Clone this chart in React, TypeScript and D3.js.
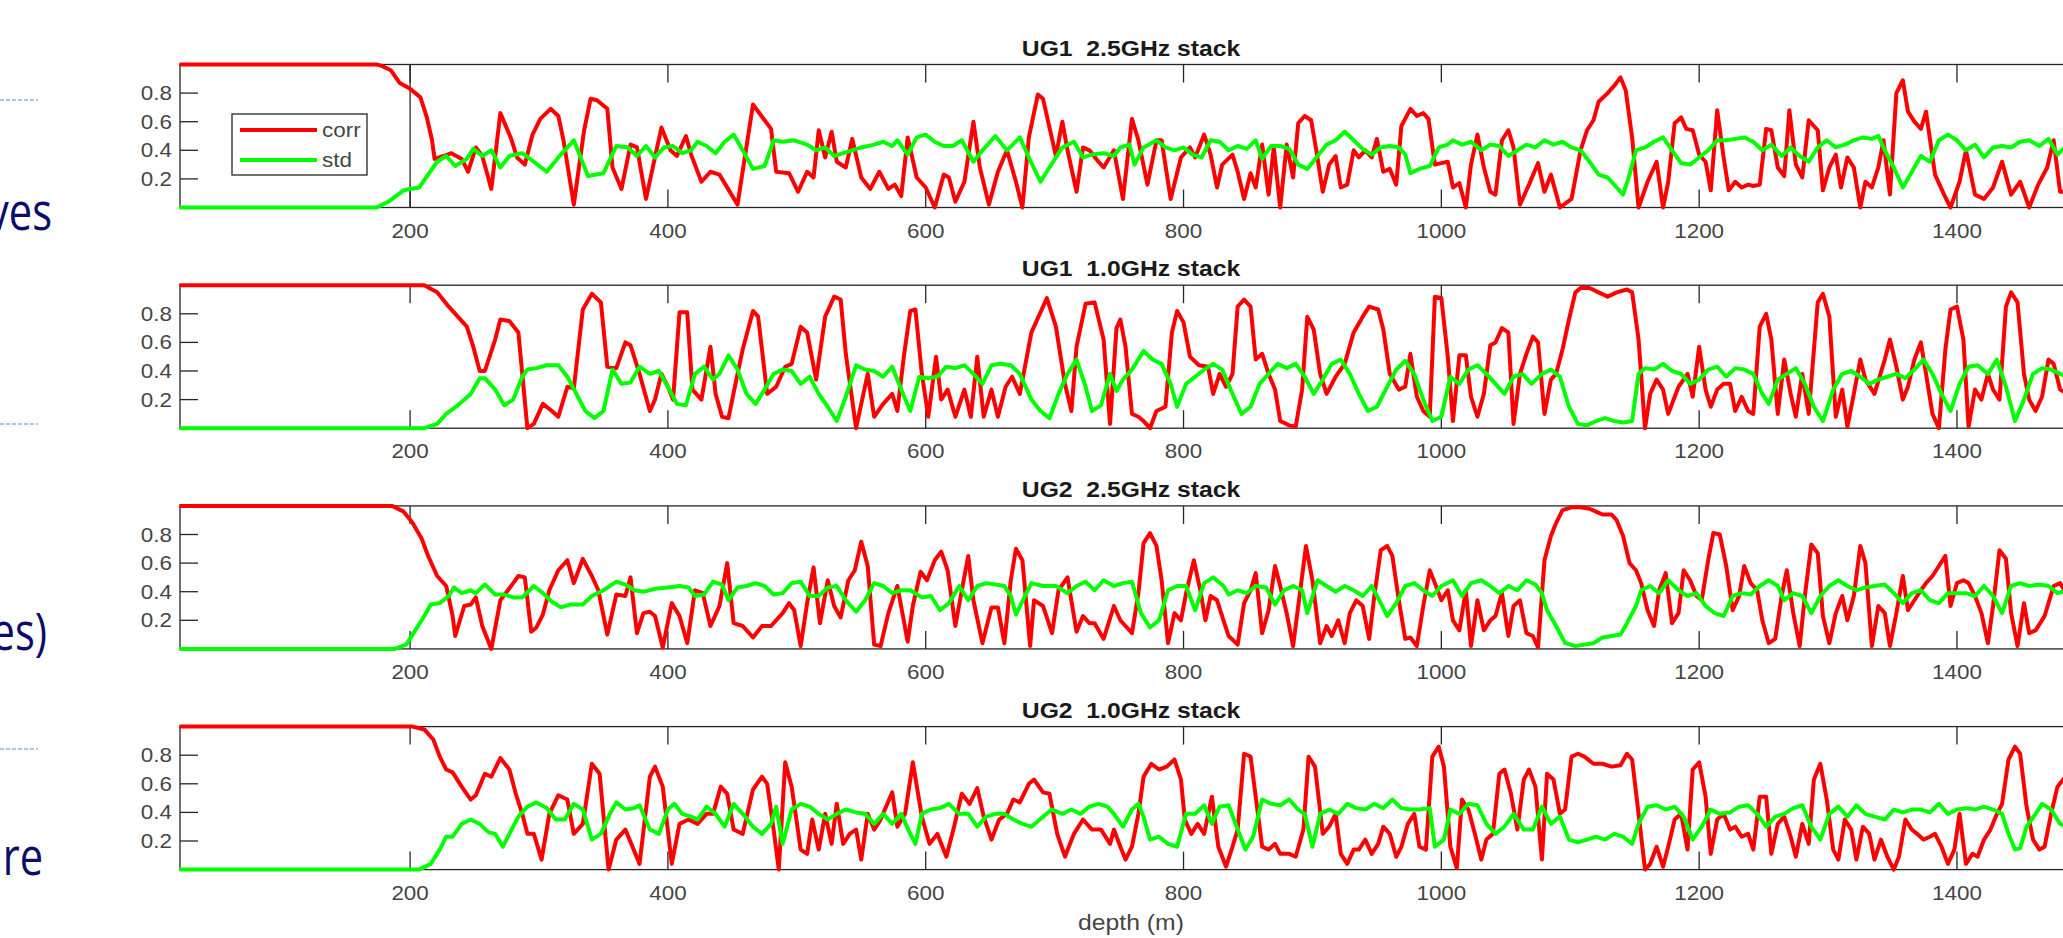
import * as d3 from 'd3';
import React, { useEffect, useRef } from 'react';

// [depth (m), value] pairs
const ug1_25_corr = [[21,1],[174,1],[178,0.99],[185,0.96],[192,0.87],[200,0.83],[208,0.77],[213,0.63],[217,0.47],[219,0.34],[226,0.36],[232,0.38],[240,0.34],[245,0.25],[251,0.42],[256,0.36],[263,0.13],[270,0.66],[278,0.49],[283,0.35],[289,0.30],[295,0.51],[301,0.62],[309,0.69],[315,0.64],[319,0.47],[327,0.02],[335,0.54],[340,0.76],[345,0.75],[353,0.69],[357,0.28],[364,0.13],[371,0.44],[376,0.42],[383,0.06],[395,0.56],[402,0.40],[407,0.36],[414,0.50],[418,0.37],[426,0.18],[433,0.25],[440,0.23],[454,0.02],[466,0.72],[480,0.55],[484,0.25],[494,0.24],[501,0.11],[508,0.25],[513,0.21],[517,0.54],[522,0.35],[527,0.53],[531,0.32],[538,0.28],[543,0.48],[550,0.21],[557,0.13],[564,0.25],[571,0.13],[576,0.16],[581,0.08],[586,0.49],[593,0.21],[600,0.14],[607,0],[614,0.23],[618,0.21],[623,0.04],[630,0.18],[637,0.60],[642,0.28],[649,0.02],[656,0.25],[663,0.40],[670,0.18],[675,0],[680,0.49],[687,0.79],[691,0.76],[696,0.56],[701,0.36],[706,0.60],[710,0.40],[717,0.11],[722,0.42],[727,0.40],[734,0.32],[738,0.28],[746,0.40],[753,0.06],[760,0.62],[765,0.47],[772,0.16],[779,0.47],[783,0.47],[790,0.06],[798,0.35],[805,0.42],[809,0.35],[816,0.51],[821,0.37],[826,0.14],[830,0.30],[838,0.37],[842,0.25],[847,0.06],[852,0.24],[856,0.14],[861,0.44],[866,0.09],[870,0.42],[875,0],[880,0.44],[885,0.21],[889,0.59],[894,0.64],[899,0.61],[903,0.40],[908,0.11],[913,0.30],[918,0.36],[922,0.14],[927,0.16],[932,0.40],[936,0.35],[941,0.40],[946,0.35],[950,0.48],[955,0.25],[960,0.27],[965,0.16],[969,0.57],[976,0.69],[981,0.64],[986,0.66],[990,0.62],[995,0.30],[1000,0.31],[1005,0.32],[1009,0.14],[1014,0.17],[1019,0],[1023,0.30],[1028,0.51],[1033,0.28],[1038,0.11],[1042,0.09],[1047,0.47],[1052,0.54],[1056,0.42],[1061,0.02],[1068,0.16],[1075,0.31],[1080,0.11],[1085,0.23],[1092,0],[1101,0.06],[1108,0.40],[1113,0.54],[1118,0.61],[1122,0.74],[1129,0.80],[1134,0.85],[1139,0.91],[1143,0.82],[1148,0.49],[1153,0],[1160,0.18],[1167,0.32],[1172,0],[1176,0.18],[1181,0.59],[1186,0.63],[1190,0.55],[1195,0.54],[1200,0.37],[1205,0.32],[1209,0.12],[1214,0.68],[1219,0.35],[1223,0.12],[1228,0.18],[1233,0.14],[1238,0.16],[1242,0.15],[1247,0.16],[1252,0.55],[1256,0.54],[1261,0.28],[1266,0.22],[1270,0.68],[1275,0.30],[1280,0.21],[1285,0.61],[1292,0.54],[1296,0.12],[1301,0.28],[1306,0.37],[1310,0.14],[1315,0.35],[1320,0.28],[1325,0],[1329,0.18],[1334,0.14],[1339,0.28],[1343,0.47],[1348,0.09],[1353,0.80],[1358,0.89],[1362,0.67],[1367,0.60],[1372,0.55],[1376,0.67],[1383,0.23],[1390,0.09],[1395,0],[1402,0.18],[1407,0.40],[1414,0.09],[1421,0.06],[1428,0.14],[1435,0.32],[1442,0.09],[1449,0.18],[1456,0],[1463,0.16],[1470,0.28],[1475,0.47],[1480,0.11],[1486,0.11]];
const ug1_25_std = [[21,0],[174,0],[183,0.04],[195,0.12],[207,0.14],[214,0.23],[221,0.32],[228,0.36],[235,0.29],[244,0.34],[249,0.41],[256,0.36],[263,0.40],[270,0.28],[277,0.36],[287,0.38],[296,0.32],[306,0.25],[315,0.35],[327,0.47],[338,0.22],[350,0.24],[360,0.43],[369,0.42],[376,0.36],[383,0.43],[390,0.35],[397,0.42],[404,0.43],[411,0.38],[418,0.40],[423,0.46],[430,0.43],[437,0.38],[444,0.46],[451,0.51],[458,0.40],[466,0.27],[475,0.29],[482,0.47],[489,0.46],[498,0.47],[508,0.44],[515,0.40],[522,0.42],[529,0.36],[536,0.38],[543,0.40],[550,0.42],[560,0.44],[567,0.46],[574,0.43],[578,0.47],[586,0.37],[593,0.49],[600,0.51],[607,0.46],[614,0.43],[621,0.43],[628,0.47],[637,0.32],[644,0.40],[654,0.50],[663,0.40],[673,0.49],[680,0.35],[689,0.18],[696,0.28],[706,0.42],[715,0.46],[722,0.35],[729,0.37],[738,0.38],[746,0.36],[751,0.42],[758,0.44],[762,0.30],[769,0.42],[779,0.47],[786,0.42],[793,0.40],[800,0.42],[807,0.37],[814,0.35],[821,0.47],[828,0.46],[835,0.40],[842,0.43],[849,0.41],[856,0.47],[861,0.34],[868,0.43],[875,0.43],[882,0.41],[889,0.30],[896,0.27],[904,0.36],[911,0.44],[918,0.47],[925,0.53],[932,0.47],[939,0.41],[946,0.37],[953,0.42],[960,0.43],[967,0.42],[972,0.37],[976,0.24],[983,0.27],[991,0.29],[998,0.42],[1005,0.44],[1009,0.47],[1016,0.44],[1023,0.46],[1031,0.40],[1038,0.44],[1045,0.43],[1052,0.36],[1059,0.40],[1066,0.44],[1073,0.42],[1080,0.47],[1087,0.44],[1094,0.46],[1101,0.42],[1108,0.40],[1115,0.32],[1122,0.23],[1129,0.21],[1136,0.14],[1141,0.09],[1146,0.23],[1151,0.40],[1158,0.42],[1165,0.46],[1172,0.49],[1179,0.40],[1186,0.31],[1193,0.30],[1200,0.35],[1207,0.40],[1214,0.47],[1221,0.47],[1228,0.48],[1235,0.49],[1242,0.46],[1249,0.40],[1256,0.44],[1264,0.36],[1271,0.42],[1278,0.36],[1285,0.32],[1292,0.42],[1299,0.47],[1306,0.42],[1313,0.44],[1320,0.47],[1327,0.49],[1334,0.48],[1339,0.50],[1344,0.40],[1351,0.28],[1358,0.14],[1365,0.25],[1372,0.36],[1379,0.32],[1386,0.47],[1393,0.51],[1400,0.47],[1407,0.40],[1414,0.44],[1421,0.35],[1428,0.42],[1435,0.43],[1442,0.42],[1449,0.46],[1456,0.47],[1464,0.43],[1471,0.48],[1478,0.37],[1486,0.44]];

const ug1_10_corr = [[21,1],[211,1],[221,0.95],[230,0.85],[244,0.71],[249,0.57],[254,0.40],[258,0.40],[266,0.62],[270,0.76],[277,0.75],[284,0.67],[291,0],[296,0.03],[303,0.17],[310,0.12],[315,0.08],[322,0.29],[327,0.28],[334,0.83],[341,0.94],[348,0.88],[353,0.43],[360,0.42],[367,0.60],[371,0.58],[378,0.38],[386,0.12],[390,0.20],[395,0.38],[400,0.29],[404,0.20],[409,0.81],[415,0.81],[419,0.27],[426,0.20],[433,0.57],[437,0.24],[442,0.08],[447,0.07],[454,0.38],[458,0.55],[466,0.82],[470,0.78],[477,0.24],[484,0.29],[491,0.43],[496,0.45],[503,0.71],[508,0.67],[515,0.34],[522,0.78],[529,0.92],[534,0.90],[538,0.52],[546,0],[550,0.17],[555,0.38],[560,0.08],[567,0.17],[574,0.24],[578,0.12],[583,0.50],[588,0.82],[592,0.83],[597,0.38],[602,0.08],[608,0.50],[612,0.20],[617,0.27],[623,0.08],[630,0.27],[635,0.08],[640,0.50],[645,0.08],[651,0.27],[656,0.08],[662,0.29],[667,0.36],[673,0.24],[682,0.67],[694,0.91],[701,0.71],[708,0.31],[713,0.12],[717,0.57],[724,0.87],[731,0.88],[738,0.62],[743,0.03],[748,0.70],[751,0.76],[755,0.57],[760,0.10],[765,0.08],[769,0.05],[774,0],[779,0.12],[786,0.15],[791,0.67],[795,0.82],[800,0.74],[805,0.50],[812,0.44],[819,0.43],[823,0.24],[828,0.38],[833,0.29],[838,0.38],[842,0.85],[847,0.90],[852,0.85],[856,0.48],[861,0.52],[866,0.38],[871,0.27],[875,0.05],[882,0.02],[887,0.01],[892,0.27],[896,0.78],[901,0.69],[906,0.38],[911,0.24],[918,0.36],[925,0.45],[932,0.67],[939,0.78],[944,0.85],[951,0.83],[955,0.69],[960,0.38],[967,0.27],[972,0.29],[976,0.52],[981,0.22],[986,0.12],[991,0.08],[995,0.92],[1000,0.91],[1005,0.50],[1009,0.05],[1014,0.51],[1019,0.51],[1023,0.22],[1028,0.08],[1033,0.24],[1038,0.58],[1042,0.60],[1047,0.70],[1052,0.67],[1056,0.03],[1061,0.38],[1066,0.52],[1071,0.64],[1075,0.60],[1080,0.10],[1085,0.34],[1089,0.38],[1094,0.55],[1099,0.76],[1104,0.95],[1108,0.98],[1115,0.98],[1122,0.95],[1129,0.92],[1136,0.95],[1144,0.97],[1148,0.95],[1153,0.62],[1158,0],[1162,0.24],[1167,0.34],[1172,0.27],[1176,0.10],[1184,0.29],[1191,0.38],[1195,0.22],[1200,0.57],[1205,0.27],[1209,0.15],[1214,0.27],[1219,0.31],[1224,0.31],[1228,0.12],[1233,0.22],[1238,0.12],[1242,0.10],[1247,0.71],[1252,0.80],[1256,0.62],[1261,0.10],[1266,0.48],[1271,0.24],[1275,0.08],[1280,0.38],[1285,0.10],[1292,0.88],[1296,0.94],[1301,0.78],[1306,0.08],[1311,0.27],[1315,0.01],[1320,0.24],[1325,0.48],[1329,0.34],[1336,0.24],[1344,0.48],[1348,0.62],[1353,0.43],[1358,0.20],[1362,0.29],[1367,0.48],[1372,0.60],[1376,0.38],[1381,0.10],[1386,0],[1391,0.55],[1395,0.83],[1400,0.85],[1405,0.62],[1409,0.01],[1414,0.27],[1419,0.20],[1424,0.38],[1428,0.27],[1433,0.20],[1438,0.85],[1442,0.95],[1447,0.88],[1452,0.38],[1456,0.20],[1461,0.12],[1466,0.22],[1471,0.48],[1475,0.45],[1480,0.27],[1486,0.24]];
const ug1_10_std = [[21,0],[211,0],[221,0.03],[228,0.10],[237,0.16],[247,0.24],[254,0.35],[258,0.35],[266,0.27],[273,0.16],[280,0.20],[287,0.36],[291,0.41],[298,0.42],[306,0.44],[315,0.44],[322,0.36],[329,0.24],[336,0.12],[343,0.07],[350,0.12],[357,0.41],[364,0.31],[371,0.32],[378,0.43],[386,0.38],[393,0.40],[400,0.29],[407,0.17],[414,0.16],[421,0.38],[428,0.43],[435,0.34],[440,0.38],[447,0.51],[454,0.41],[461,0.24],[468,0.17],[475,0.27],[482,0.38],[489,0.41],[496,0.40],[503,0.31],[510,0.36],[517,0.24],[524,0.15],[531,0.05],[538,0.22],[546,0.44],[553,0.41],[560,0.40],[567,0.36],[574,0.43],[581,0.27],[588,0.12],[595,0.36],[602,0.35],[609,0.36],[616,0.43],[623,0.42],[630,0.44],[637,0.38],[644,0.31],[651,0.44],[658,0.45],[666,0.44],[673,0.38],[682,0.20],[689,0.12],[696,0.07],[703,0.24],[710,0.38],[717,0.48],[724,0.29],[729,0.12],[736,0.16],[743,0.38],[748,0.26],[753,0.34],[760,0.41],[769,0.54],[776,0.48],[783,0.45],[790,0.31],[795,0.15],[802,0.31],[809,0.36],[816,0.41],[823,0.45],[830,0.41],[838,0.24],[845,0.10],[852,0.15],[859,0.31],[866,0.38],[873,0.45],[880,0.42],[887,0.45],[894,0.36],[901,0.24],[908,0.34],[915,0.45],[922,0.48],[929,0.38],[936,0.24],[943,0.12],[950,0.15],[958,0.29],[965,0.41],[972,0.47],[979,0.38],[986,0.20],[993,0.05],[1000,0.08],[1007,0.36],[1014,0.31],[1021,0.41],[1028,0.44],[1035,0.38],[1042,0.31],[1049,0.24],[1056,0.36],[1063,0.38],[1070,0.31],[1078,0.38],[1085,0.41],[1092,0.36],[1099,0.15],[1106,0.03],[1113,0.02],[1120,0.05],[1127,0.07],[1134,0.05],[1141,0.04],[1148,0.05],[1153,0.38],[1158,0.42],[1165,0.41],[1172,0.45],[1179,0.40],[1186,0.38],[1193,0.31],[1200,0.34],[1207,0.41],[1214,0.43],[1221,0.36],[1228,0.42],[1235,0.41],[1242,0.38],[1249,0.24],[1254,0.17],[1261,0.34],[1268,0.38],[1275,0.42],[1282,0.31],[1289,0.15],[1296,0.05],[1304,0.27],[1311,0.38],[1318,0.40],[1325,0.36],[1332,0.31],[1339,0.34],[1346,0.36],[1353,0.38],[1360,0.35],[1367,0.41],[1374,0.48],[1381,0.38],[1388,0.24],[1395,0.12],[1402,0.31],[1409,0.43],[1416,0.44],[1424,0.38],[1431,0.48],[1438,0.29],[1445,0.05],[1452,0.20],[1459,0.38],[1466,0.42],[1473,0.41],[1480,0.38],[1486,0.36]];

const ug2_25_corr = [[21,1],[186,1],[195,0.96],[202,0.88],[209,0.77],[214,0.65],[221,0.51],[228,0.44],[233,0.23],[235,0.09],[242,0.30],[247,0.31],[251,0.36],[256,0.16],[263,0],[270,0.34],[275,0.40],[280,0.46],[284,0.51],[289,0.50],[294,0.12],[298,0.15],[303,0.24],[308,0.41],[315,0.55],[322,0.62],[327,0.46],[334,0.63],[341,0.51],[346,0.41],[353,0.10],[360,0.38],[367,0.37],[371,0.50],[376,0.11],[381,0.25],[386,0.26],[390,0.23],[396,0.01],[403,0.32],[409,0.23],[415,0.04],[421,0.41],[427,0.39],[433,0.16],[440,0.30],[446,0.60],[451,0.18],[458,0.16],[466,0.08],[473,0.16],[480,0.16],[489,0.25],[494,0.32],[498,0.27],[503,0.02],[508,0.32],[513,0.57],[518,0.18],[524,0.48],[529,0.30],[534,0.22],[540,0.48],[545,0.55],[550,0.75],[555,0.58],[560,0.03],[565,0.02],[571,0.25],[578,0.44],[586,0.05],[590,0.30],[596,0.54],[601,0.48],[607,0.62],[612,0.68],[617,0.55],[623,0.16],[628,0.41],[633,0.65],[637,0.34],[644,0.04],[651,0.29],[656,0.29],[661,0.04],[666,0.48],[670,0.70],[675,0.62],[681,0.02],[684,0.34],[691,0.30],[698,0.11],[703,0.41],[710,0.50],[717,0.12],[722,0.23],[727,0.18],[731,0.18],[738,0.07],[746,0.30],[751,0.20],[755,0.16],[760,0.11],[765,0.39],[769,0.74],[774,0.81],[779,0.72],[783,0.48],[788,0.04],[793,0.25],[798,0.20],[802,0.39],[808,0.62],[813,0.41],[817,0.20],[821,0.37],[826,0.34],[831,0.20],[835,0.09],[842,0.03],[847,0.32],[852,0.41],[856,0.53],[861,0.11],[866,0.27],[871,0.58],[875,0.44],[880,0.25],[885,0.02],[889,0.30],[895,0.72],[900,0.48],[906,0.04],[911,0.16],[915,0.09],[920,0.20],[925,0.04],[929,0.25],[934,0.34],[939,0.30],[944,0.07],[948,0.37],[953,0.69],[958,0.72],[962,0.65],[967,0.34],[972,0.07],[976,0.08],[981,0.02],[986,0.30],[991,0.55],[995,0.46],[1000,0.34],[1005,0.41],[1009,0.20],[1014,0.13],[1019,0.41],[1023,0.02],[1028,0.34],[1033,0.13],[1038,0.20],[1042,0.23],[1047,0.39],[1052,0.09],[1056,0.30],[1061,0.34],[1066,0.11],[1071,0.09],[1075,0.01],[1080,0.62],[1085,0.79],[1089,0.88],[1094,0.97],[1101,0.99],[1108,0.99],[1115,0.98],[1120,0.96],[1125,0.94],[1132,0.94],[1136,0.90],[1141,0.79],[1146,0.60],[1151,0.55],[1155,0.46],[1160,0.27],[1165,0.16],[1169,0.41],[1174,0.53],[1179,0.18],[1184,0.25],[1188,0.55],[1193,0.48],[1198,0.37],[1202,0.34],[1207,0.62],[1211,0.81],[1216,0.80],[1221,0.58],[1226,0.27],[1231,0.37],[1235,0.58],[1240,0.46],[1245,0.41],[1249,0.20],[1254,0.04],[1259,0.07],[1264,0.37],[1268,0.55],[1273,0.25],[1278,0.02],[1282,0.37],[1287,0.73],[1292,0.67],[1296,0.23],[1301,0.04],[1306,0.25],[1311,0.37],[1315,0.20],[1320,0.37],[1325,0.72],[1329,0.60],[1334,0.02],[1339,0.30],[1344,0.25],[1348,0.02],[1353,0.25],[1358,0.51],[1362,0.27],[1367,0.34],[1372,0.41],[1376,0.46],[1381,0.51],[1386,0.58],[1391,0.65],[1395,0.30],[1400,0.46],[1405,0.48],[1409,0.46],[1414,0.37],[1419,0.25],[1424,0.04],[1428,0.30],[1433,0.69],[1438,0.63],[1442,0.25],[1447,0.02],[1452,0.32],[1456,0.11],[1461,0.13],[1468,0.23],[1475,0.44],[1480,0.46],[1486,0.37]];
const ug2_25_std = [[21,0],[188,0],[197,0.03],[204,0.13],[211,0.23],[216,0.31],[223,0.32],[230,0.37],[234,0.43],[240,0.39],[247,0.41],[251,0.39],[258,0.45],[266,0.38],[273,0.38],[280,0.36],[287,0.36],[296,0.44],[303,0.39],[310,0.33],[317,0.29],[324,0.31],[334,0.31],[341,0.37],[350,0.41],[360,0.47],[367,0.45],[374,0.41],[381,0.40],[390,0.42],[400,0.43],[409,0.44],[416,0.43],[421,0.37],[428,0.38],[435,0.47],[442,0.45],[447,0.34],[454,0.43],[461,0.44],[468,0.46],[475,0.44],[482,0.38],[489,0.39],[496,0.46],[503,0.47],[510,0.37],[517,0.37],[524,0.43],[531,0.44],[538,0.34],[546,0.26],[553,0.34],[560,0.46],[567,0.44],[574,0.39],[581,0.41],[588,0.41],[597,0.36],[604,0.37],[611,0.27],[618,0.32],[626,0.44],[633,0.34],[640,0.44],[647,0.46],[654,0.45],[661,0.44],[666,0.37],[670,0.24],[677,0.37],[682,0.46],[691,0.44],[701,0.44],[710,0.39],[717,0.44],[724,0.47],[731,0.41],[738,0.48],[746,0.44],[753,0.46],[760,0.47],[767,0.25],[774,0.15],[781,0.20],[788,0.41],[795,0.44],[802,0.44],[809,0.27],[816,0.46],[823,0.50],[831,0.44],[835,0.38],[842,0.41],[849,0.39],[856,0.44],[864,0.43],[871,0.31],[878,0.41],[885,0.44],[892,0.41],[896,0.25],[904,0.48],[911,0.44],[918,0.40],[925,0.44],[932,0.41],[939,0.37],[946,0.44],[953,0.32],[958,0.23],[965,0.32],[972,0.44],[979,0.46],[986,0.41],[993,0.37],[1000,0.44],[1009,0.48],[1016,0.37],[1023,0.46],[1031,0.48],[1038,0.44],[1045,0.39],[1052,0.44],[1059,0.41],[1066,0.48],[1073,0.45],[1078,0.39],[1082,0.27],[1089,0.16],[1096,0.04],[1104,0.02],[1111,0.03],[1118,0.04],[1125,0.08],[1132,0.09],[1139,0.10],[1144,0.18],[1151,0.30],[1155,0.41],[1162,0.44],[1169,0.39],[1176,0.48],[1184,0.41],[1191,0.37],[1198,0.39],[1205,0.30],[1212,0.25],[1219,0.23],[1226,0.37],[1233,0.39],[1240,0.38],[1247,0.44],[1254,0.48],[1261,0.44],[1266,0.34],[1273,0.39],[1280,0.37],[1287,0.25],[1294,0.37],[1301,0.44],[1308,0.48],[1315,0.44],[1322,0.41],[1329,0.43],[1336,0.44],[1344,0.45],[1351,0.39],[1358,0.32],[1365,0.39],[1372,0.41],[1379,0.34],[1386,0.32],[1393,0.39],[1400,0.39],[1407,0.39],[1414,0.37],[1421,0.44],[1428,0.37],[1435,0.25],[1442,0.44],[1449,0.46],[1456,0.44],[1464,0.45],[1471,0.44],[1478,0.39],[1486,0.41]];

const ug2_10_corr = [[21,1],[202,1],[211,0.98],[218,0.91],[223,0.79],[228,0.70],[233,0.68],[240,0.58],[247,0.49],[251,0.52],[258,0.67],[263,0.65],[270,0.78],[277,0.70],[282,0.53],[287,0.39],[291,0.25],[296,0.25],[302,0.07],[308,0.39],[315,0.52],[322,0.49],[327,0.25],[334,0.32],[341,0.74],[347,0.67],[354,0],[360,0.21],[367,0.28],[378,0.04],[386,0.65],[390,0.72],[396,0.58],[403,0.04],[409,0.32],[416,0.35],[423,0.32],[430,0.39],[435,0.39],[441,0.58],[446,0.53],[451,0.28],[458,0.25],[466,0.56],[473,0.65],[477,0.60],[482,0.28],[486,0],[491,0.75],[496,0.58],[503,0.14],[508,0.11],[512,0.35],[517,0.14],[522,0.39],[527,0.18],[531,0.46],[536,0.18],[541,0.25],[546,0.28],[550,0.07],[555,0.39],[560,0.28],[565,0.35],[574,0.54],[578,0.30],[584,0.39],[590,0.75],[597,0.37],[603,0.18],[609,0.25],[616,0.09],[622,0.30],[628,0.53],[634,0.46],[640,0.57],[645,0.37],[651,0.21],[657,0.35],[663,0.39],[668,0.49],[673,0.47],[680,0.60],[684,0.63],[691,0.54],[696,0.53],[702,0.25],[708,0.09],[715,0.25],[722,0.35],[729,0.28],[736,0.28],[743,0.18],[746,0.28],[751,0.16],[755,0.07],[760,0.16],[765,0.39],[769,0.65],[775,0.74],[781,0.70],[787,0.72],[793,0.77],[798,0.63],[801,0.35],[806,0.25],[811,0.32],[816,0.25],[822,0.51],[827,0.16],[833,0.02],[838,0.16],[842,0.28],[847,0.81],[852,0.79],[856,0.51],[861,0.16],[866,0.14],[871,0.18],[875,0.11],[882,0.11],[887,0.09],[893,0.28],[897,0.79],[902,0.72],[908,0.25],[913,0.30],[918,0.39],[922,0.11],[927,0.04],[932,0.14],[936,0.14],[941,0.21],[946,0.11],[951,0.18],[955,0.30],[960,0.25],[965,0.09],[969,0.16],[974,0.32],[979,0.39],[983,0.16],[988,0.14],[993,0.79],[998,0.86],[1002,0.72],[1007,0.16],[1012,0.01],[1016,0.49],[1021,0.42],[1026,0.25],[1031,0.07],[1035,0.21],[1040,0.25],[1045,0.67],[1049,0.70],[1054,0.53],[1059,0.28],[1064,0.63],[1068,0.70],[1073,0.58],[1078,0.07],[1082,0.67],[1087,0.63],[1092,0.39],[1096,0.42],[1101,0.79],[1106,0.81],[1111,0.79],[1118,0.74],[1125,0.74],[1132,0.72],[1139,0.73],[1144,0.81],[1148,0.77],[1153,0.39],[1158,0],[1162,0.04],[1167,0.16],[1172,0.02],[1176,0.16],[1181,0.35],[1186,0.39],[1191,0.14],[1195,0.70],[1200,0.75],[1205,0.51],[1209,0.11],[1214,0.35],[1219,0.39],[1224,0.28],[1228,0.30],[1233,0.23],[1238,0.25],[1242,0.14],[1247,0.51],[1252,0.51],[1256,0.11],[1261,0.32],[1266,0.37],[1271,0.23],[1275,0.09],[1280,0.32],[1285,0.18],[1289,0.63],[1294,0.74],[1299,0.49],[1304,0.14],[1308,0.07],[1313,0.35],[1318,0.28],[1322,0.07],[1327,0.30],[1332,0.25],[1336,0.07],[1341,0.21],[1346,0.09],[1351,0],[1355,0.09],[1360,0.35],[1365,0.28],[1369,0.25],[1374,0.21],[1379,0.23],[1383,0.25],[1388,0.16],[1393,0.04],[1398,0.14],[1402,0.39],[1407,0.04],[1412,0.11],[1416,0.09],[1421,0.21],[1426,0.28],[1431,0.39],[1435,0.46],[1440,0.77],[1445,0.86],[1449,0.81],[1454,0.44],[1459,0.21],[1464,0.14],[1468,0.16],[1473,0.39],[1478,0.58],[1486,0.67]];
const ug2_10_std = [[21,0],[207,0],[216,0.04],[223,0.14],[228,0.23],[233,0.23],[240,0.32],[247,0.35],[254,0.32],[261,0.26],[266,0.25],[272,0.16],[277,0.25],[284,0.37],[291,0.44],[298,0.47],[306,0.43],[313,0.35],[320,0.35],[327,0.46],[334,0.42],[341,0.21],[348,0.25],[355,0.39],[360,0.47],[367,0.42],[374,0.43],[378,0.45],[386,0.28],[393,0.25],[400,0.42],[405,0.46],[411,0.39],[418,0.37],[423,0.35],[430,0.44],[437,0.39],[444,0.30],[451,0.46],[458,0.39],[466,0.30],[473,0.25],[480,0.32],[484,0.44],[489,0.18],[496,0.42],[503,0.46],[510,0.44],[517,0.39],[524,0.35],[531,0.39],[538,0.42],[546,0.40],[553,0.39],[560,0.32],[567,0.39],[574,0.32],[581,0.39],[588,0.25],[592,0.18],[597,0.39],[604,0.42],[611,0.43],[618,0.46],[626,0.39],[633,0.39],[640,0.30],[647,0.37],[654,0.39],[661,0.39],[668,0.35],[675,0.32],[682,0.30],[691,0.37],[698,0.42],[706,0.39],[713,0.42],[720,0.39],[727,0.44],[734,0.46],[741,0.44],[746,0.39],[753,0.30],[760,0.42],[765,0.46],[769,0.37],[774,0.21],[781,0.23],[788,0.18],[795,0.16],[802,0.39],[809,0.39],[816,0.45],[822,0.32],[828,0.44],[835,0.45],[842,0.28],[848,0.14],[854,0.23],[861,0.49],[868,0.46],[875,0.45],[882,0.49],[889,0.42],[894,0.39],[900,0.16],[906,0.39],[913,0.42],[920,0.39],[927,0.46],[934,0.43],[941,0.42],[948,0.46],[955,0.43],[962,0.49],[969,0.43],[976,0.42],[983,0.42],[991,0.43],[995,0.16],[1002,0.21],[1007,0.42],[1014,0.39],[1021,0.46],[1028,0.45],[1035,0.32],[1042,0.25],[1049,0.30],[1056,0.39],[1064,0.28],[1071,0.28],[1078,0.44],[1085,0.32],[1092,0.37],[1099,0.21],[1106,0.19],[1113,0.21],[1120,0.23],[1127,0.21],[1134,0.25],[1141,0.23],[1148,0.18],[1153,0.32],[1160,0.44],[1167,0.45],[1174,0.42],[1181,0.44],[1188,0.37],[1195,0.21],[1202,0.30],[1209,0.42],[1216,0.39],[1224,0.40],[1231,0.44],[1238,0.45],[1245,0.39],[1252,0.30],[1259,0.37],[1266,0.39],[1273,0.43],[1280,0.45],[1287,0.30],[1294,0.21],[1301,0.39],[1308,0.44],[1315,0.37],[1322,0.45],[1329,0.39],[1336,0.37],[1344,0.35],[1351,0.42],[1358,0.40],[1365,0.42],[1372,0.42],[1379,0.40],[1386,0.46],[1393,0.39],[1400,0.42],[1407,0.43],[1414,0.42],[1421,0.44],[1428,0.42],[1435,0.39],[1440,0.25],[1445,0.14],[1449,0.15],[1454,0.30],[1461,0.39],[1466,0.46],[1473,0.42],[1480,0.32],[1486,0.30]];

const titles = ['UG1  2.5GHz stack', 'UG1  1.0GHz stack', 'UG2  2.5GHz stack', 'UG2  1.0GHz stack'];
const corrSeries = [ug1_25_corr, ug1_10_corr, ug2_25_corr, ug2_10_corr];
const stdSeries = [ug1_25_std, ug1_10_std, ug2_25_std, ug2_10_std];
const legendLabels = ['corr', 'std'];
const xTicks = [200, 400, 600, 800, 1000, 1200, 1400];
const yTicks = [0.2, 0.4, 0.6, 0.8];
const xLabel = 'depth (m)';
// fragments of the slide text cut off at the left edge
const sideText = ['ves', 'es)', 're'];

const W = 2063;
const H = 938;
const FONT = '"Liberation Sans", Arial, Helvetica, sans-serif';
const AXIS = '#262626';
const LABEL = '#454545';
const RED = '#ff0000';
const GREEN = '#00ff00';

// the figure was pasted a bit wider than tall, so its text is stretched
function stretchedText(parent, x, y, str, size, anchor, weight?, color?) {
  parent.append('g')
    .attr('transform', 'translate(' + x + ',' + y + ') scale(1.15,1)')
    .append('text')
    .attr('text-anchor', anchor)
    .attr('font-family', FONT)
    .attr('font-size', size)
    .attr('font-weight', weight || 'normal')
    .attr('fill', color || LABEL)
    .style('white-space', 'pre')
    .text(str);
}

export default function App() {
  const ref = useRef(null);

  useEffect(() => {
    const svg = d3.select(ref.current);
    svg.selectAll('*').remove();

    svg.append('rect').attr('width', W).attr('height', H).attr('fill', '#ffffff');

    // slide leftovers
    const sideY = [230, 650, 875];
    const sideX = [52, 47, 43];
    sideText.forEach(function (t, i) {
      svg.append('g')
        .attr('transform', 'translate(' + sideX[i] + ',' + sideY[i] + ') scale(0.8,1)')
        .append('text')
        .attr('text-anchor', 'end')
        .attr('font-family', '"Open Sans", "Noto Sans", sans-serif')
        .attr('font-size', 52)
        .attr('fill', '#0c0c6a')
        .text(t);
    });
    [100, 424, 749].forEach(function (yy) {
      svg.append('line')
        .attr('x1', 0).attr('x2', 38).attr('y1', yy).attr('y2', yy)
        .attr('stroke', '#5b8bd9').attr('stroke-width', 1)
        .attr('stroke-dasharray', '4 2');
    });

    const x = d3.scaleLinear().domain([21.5, 1497]).range([180, 2082]);
    const left = x.range()[0];
    const right = x.range()[1];
    const panelH = 143;
    const tickLen = 18;

    titles.forEach(function (title, i) {
      const top = 64.5 + i * 220.7;
      const bottom = top + panelH;
      const y = d3.scaleLinear().domain([0, 1]).range([bottom, top]);
      const g = svg.append('g');

      // axes box
      g.append('rect')
        .attr('x', left).attr('y', top)
        .attr('width', right - left).attr('height', panelH)
        .attr('fill', 'none').attr('stroke', AXIS).attr('stroke-width', 1.3);

      // ticks point inwards, on both sides
      xTicks.forEach(function (t) {
        g.append('line').attr('x1', x(t)).attr('x2', x(t))
          .attr('y1', bottom).attr('y2', bottom - tickLen)
          .attr('stroke', AXIS).attr('stroke-width', 1.3);
        g.append('line').attr('x1', x(t)).attr('x2', x(t))
          .attr('y1', top).attr('y2', top + tickLen)
          .attr('stroke', AXIS).attr('stroke-width', 1.3);
        stretchedText(g, x(t), bottom + 30, String(t), 19.5, 'middle');
      });
      yTicks.forEach(function (t) {
        g.append('line').attr('x1', left).attr('x2', left + tickLen)
          .attr('y1', y(t)).attr('y2', y(t))
          .attr('stroke', AXIS).attr('stroke-width', 1.3);
        stretchedText(g, left - 8, y(t) + 7, String(t), 19.5, 'end');
      });
      if (i === 0) {
        g.append('line').attr('x1', x(200)).attr('x2', x(200))
          .attr('y1', top).attr('y2', bottom)
          .attr('stroke', AXIS).attr('stroke-width', 1.3);
      }

      stretchedText(g, (left + right) / 2, top - 9, title, 21.5, 'middle', 'bold', '#1a1a1a');

      const line = d3.line()
        .x(function (d) { return x(d[0]); })
        .y(function (d) { return y(d[1]); });

      g.append('path').datum(corrSeries[i])
        .attr('d', line).attr('fill', 'none')
        .attr('stroke', RED).attr('stroke-width', 4)
        .attr('stroke-linejoin', 'round');
      g.append('path').datum(stdSeries[i])
        .attr('d', line).attr('fill', 'none')
        .attr('stroke', GREEN).attr('stroke-width', 4)
        .attr('stroke-linejoin', 'round');

      if (i === 0) {
        const lg = g.append('g');
        lg.append('rect')
          .attr('x', 232).attr('y', 114).attr('width', 135).attr('height', 61)
          .attr('fill', '#ffffff').attr('stroke', AXIS).attr('stroke-width', 1.3);
        [RED, GREEN].forEach(function (c, k) {
          const ly = 130 + k * 30;
          lg.append('line').attr('x1', 240).attr('x2', 317)
            .attr('y1', ly).attr('y2', ly)
            .attr('stroke', c).attr('stroke-width', 4);
          stretchedText(lg, 322, ly + 7, legendLabels[k], 19.5, 'start');
        });
      }
    });

    stretchedText(svg, (left + right) / 2, 930, xLabel, 21.5, 'middle');
  }, []);

  return (
    <svg ref={ref} width={W} height={H}
      style={{ position: 'fixed', left: 0, top: 0, display: 'block' }} />
  );
}
